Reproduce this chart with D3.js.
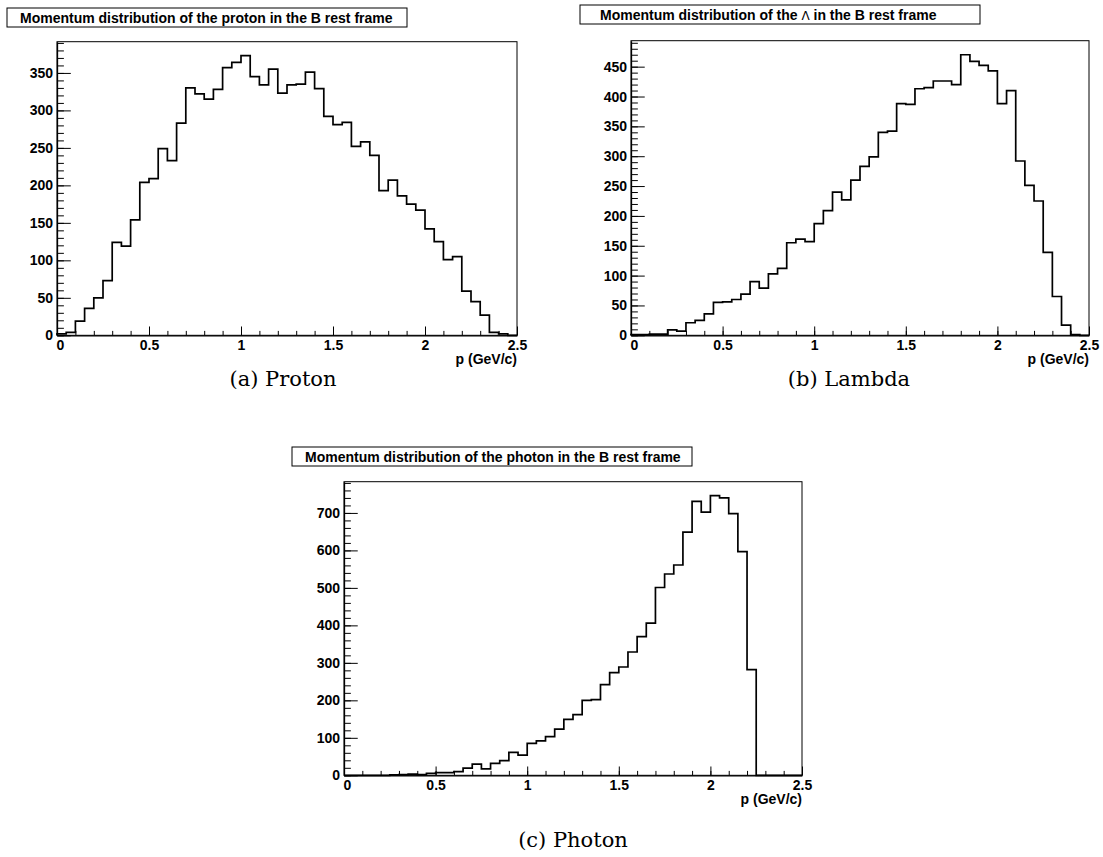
<!DOCTYPE html>
<html>
<head>
<meta charset="utf-8">
<script src="https://cdn.jsdelivr.net/npm/d3@7"></script>
<style>
  body { margin: 0; background: #fff; }
  .ticklab { font-family: "Liberation Sans", Arial, sans-serif; font-weight: bold; font-size: 14px; }
  .title { font-family: "Liberation Sans", Arial, sans-serif; font-weight: bold; font-size: 14px; }
  .caption { font-family: "DejaVu Serif", serif; font-size: 21px; }
</style>
</head>
<body>
<div id="chart"></div>
<script>
// bin edges: 50 bins of 0.05 GeV/c from 0 to 2.5
var pMin = 0, pMax = 2.5, binWidth = 0.05;

// counts
var protonCounts = [2, 4, 19, 36, 50, 73, 124, 119, 154, 204,
  209, 249, 233, 283, 330, 322, 315, 328, 357, 364,
  373, 345, 334, 355, 323, 334, 335, 351, 329, 292,
  281, 284, 252, 258, 240, 193, 207, 186, 175, 167,
  142, 125, 101, 105, 59, 45, 27, 4, 2, 0];

var lambdaCounts = [1, 1, 2, 2, 9, 7, 21, 25, 36, 55,
  56, 60, 69, 90, 79, 103, 112, 155, 161, 157,
  187, 209, 240, 227, 260, 283, 299, 340, 342, 388,
  387, 413, 415, 426, 426, 420, 470, 459, 452, 443,
  388, 410, 292, 251, 225, 139, 65, 17, 1, 0];

var photonCounts = [0, 0, 0, 0, 0, 1, 2, 3, 2, 5,
  7, 7, 10, 19, 30, 17, 32, 39, 61, 54,
  85, 92, 103, 123, 149, 162, 200, 202, 242, 274,
  289, 329, 370, 406, 501, 537, 561, 649, 731, 702,
  746, 740, 698, 597, 282, 0, 0, 0, 0, 0];

// tick labels
var xTickValues = [0, 0.5, 1, 1.5, 2, 2.5];
var xTickLabels = ["0", "0.5", "1", "1.5", "2", "2.5"];
var protonYTicks = [0, 50, 100, 150, 200, 250, 300, 350];
var lambdaYTicks = [0, 50, 100, 150, 200, 250, 300, 350, 400, 450];
var photonYTicks = [0, 100, 200, 300, 400, 500, 600, 700];

var titles = [
  "Momentum distribution of the proton in the B rest frame",
  "Momentum distribution of the \u039b in the B rest frame",
  "Momentum distribution of the photon in the B rest frame"
];
var captions = ["(a) Proton", "(b) Lambda", "(c) Photon"];
var xLabel = "p (GeV/c)";

var svg = d3.select('#chart')
  .append('svg')
  .attr('width', 1103)
  .attr('height', 857);

// one ROOT style pad
function drawPanel(counts, yTicks, yMinorStep, title, caption, box) {
  var x = d3.scaleLinear().domain([pMin, pMax]).range([box.left, box.right]);
  var y = d3.scaleLinear().domain([0, d3.max(counts) * 1.05]).range([box.bottom, box.top]);
  var w = box.right - box.left, h = box.bottom - box.top;

  // frame
  svg.append('rect')
    .attr('x', box.left).attr('y', box.top)
    .attr('width', w).attr('height', h)
    .attr('fill', 'none').attr('stroke', '#000').attr('stroke-width', 1);

  // minor ticks first
  svg.append('g')
    .attr('transform', `translate(0, ${box.bottom})`)
    .call(d3.axisBottom(x).tickValues(d3.range(0, 26).map(d => d / 10)).tickSize(-h * 0.015).tickFormat(''))
    .call(g => g.select('.domain').remove());
  svg.append('g')
    .attr('transform', `translate(${box.left}, 0)`)
    .call(d3.axisLeft(y).tickValues(d3.range(0, y.domain()[1], yMinorStep)).tickSize(-w * 0.015).tickFormat(''))
    .call(g => g.select('.domain').remove());

  // major ticks + labels
  var xAxis = svg.append('g')
    .attr('transform', `translate(0, ${box.bottom})`)
    .call(d3.axisBottom(x).tickValues(xTickValues).tickSize(-h * 0.03).tickSizeOuter(0)
      .tickPadding(5).tickFormat((d, i) => xTickLabels[i]));
  xAxis.selectAll('text').attr('class', 'ticklab').attr('fill', '#000');
  // ROOT pushes the x "0" a bit right of the y "0"
  xAxis.selectAll('text').filter(d => d === 0).attr('dx', '3');

  var yAxis = svg.append('g')
    .attr('transform', `translate(${box.left}, 0)`)
    .call(d3.axisLeft(y).tickValues(yTicks).tickSize(-w * 0.03).tickSizeOuter(0).tickPadding(4));
  yAxis.selectAll('text').attr('class', 'ticklab').attr('fill', '#000');

  svg.selectAll('.domain').attr('stroke-width', 1.3);

  // axis title, right aligned at the end of the axis
  svg.append('text')
    .attr('class', 'ticklab')
    .attr('x', box.right)
    .attr('y', box.bottom + 29)
    .attr('text-anchor', 'end')
    .text(xLabel);

  // histogram outline
  var pts = [[pMin, 0]];
  counts.forEach((c, i) => pts.push([pMin + i * binWidth, c]));
  pts.push([pMax, counts[counts.length - 1]]);
  var line = d3.line()
    .x(d => x(d[0]))
    .y(d => y(d[1]))
    .curve(d3.curveStepAfter);
  svg.append('path')
    .datum(pts)
    .attr('d', line)
    .attr('fill', 'none')
    .attr('stroke', '#000')
    .attr('stroke-width', 1.7);

  // title box
  svg.append('rect')
    .attr('x', box.tx).attr('y', box.ty)
    .attr('width', 400).attr('height', 19)
    .attr('fill', '#fff').attr('stroke', '#000').attr('stroke-width', 1);
  var t = svg.append('text')
    .attr('class', 'title')
    .attr('x', box.tx + box.tpad)
    .attr('y', box.ty + 14.5);
  var parts = title.split('\u039b');
  t.append('tspan').text(parts[0]);
  if (parts.length > 1) {
    t.append('tspan').attr('font-weight', 'normal').attr('font-family', 'DejaVu Sans').attr('font-size', '12px').text('\u039b');
    t.append('tspan').text(parts[1]);
  }

  svg.append('text')
    .attr('class', 'caption')
    .attr('x', box.cx)
    .attr('y', box.cy)
    .attr('text-anchor', 'middle')
    .text(caption);
}

drawPanel(protonCounts, protonYTicks, 10, titles[0], captions[0],
  {left: 57, right: 517, top: 41.7, bottom: 335.3, tx: 7, ty: 8, tpad: 13, cx: 283, cy: 386});
drawPanel(lambdaCounts, lambdaYTicks, 10, titles[1], captions[1],
  {left: 631, right: 1089, top: 40.7, bottom: 335.3, tx: 580, ty: 5, tpad: 20, cx: 849, cy: 386});
drawPanel(photonCounts, photonYTicks, 20, titles[2], captions[2],
  {left: 344, right: 802, top: 481.7, bottom: 775.3, tx: 292, ty: 447, tpad: 13, cx: 573, cy: 847});
</script>
</body>
</html>
